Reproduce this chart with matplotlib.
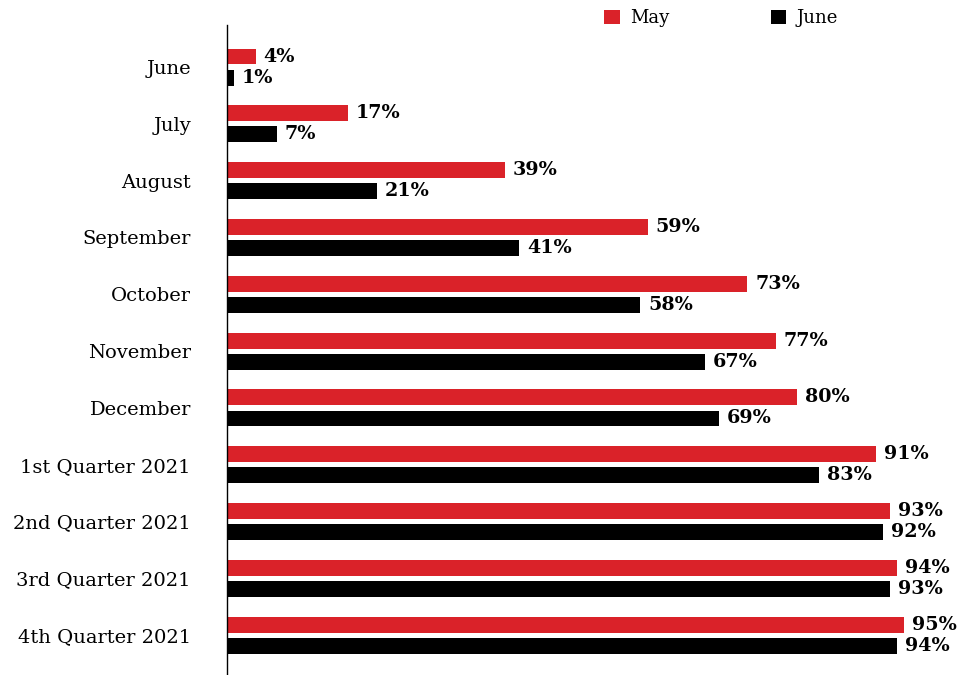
import matplotlib
matplotlib.use("Agg")
import matplotlib.pyplot as plt
from matplotlib.patches import Patch
from matplotlib import font_manager
import numpy as np

categories = ["June", "July", "August", "September", "October", "November",
              "December", "1st Quarter 2021", "2nd Quarter 2021",
              "3rd Quarter 2021", "4th Quarter 2021"]
may_values = [4, 17, 39, 59, 73, 77, 80, 91, 93, 94, 95]
june_values = [1, 7, 21, 41, 58, 67, 69, 83, 92, 93, 94]
series_names = ["May", "June"]

RED = "#DA2229"
BLACK = "#000000"

names = {f.name for f in font_manager.fontManager.ttflist}
serif = "DejaVu Serif" if "DejaVu Serif" in names else "Liberation Serif"
plt.rcParams["font.family"] = [serif]

fig = plt.figure(figsize=(9.57, 6.75), dpi=100)
ax = fig.add_axes([227 / 957, 0.0, 1 - 227 / 957, 650 / 675])

y = np.arange(len(categories))
h = 0.28
off = 0.185
ax.barh(y - off, may_values, height=h, color=RED)
ax.barh(y + off, june_values, height=h, color=BLACK)

for yi, v in zip(y, may_values):
    ax.text(v + 1.1, yi - off, f"{v}%", va="center", ha="left",
            fontsize=13.8, fontweight="bold", color="black", family=serif)
for yi, v in zip(y, june_values):
    ax.text(v + 1.1, yi + off, f"{v}%", va="center", ha="left",
            fontsize=13.8, fontweight="bold", color="black", family=serif)

ax.set_xlim(0, 102.4)
ax.set_ylim(10.70, -0.74)
ax.set_yticks(y)
ax.set_yticklabels(categories, fontsize=14, family=serif)
ax.tick_params(axis="y", length=0, pad=26)
ax.set_xticks([])
for s in ["top", "right", "bottom"]:
    ax.spines[s].set_visible(False)
ax.spines["left"].set_linewidth(1.0)

handles = [Patch(facecolor=RED, edgecolor="none"),
           Patch(facecolor=BLACK, edgecolor="none")]
fig.legend(handles, series_names, loc="center left",
           bbox_to_anchor=(588 / 957, 1 - 18 / 675), ncol=2, frameon=False,
           handlelength=0.85, handleheight=0.85, handletextpad=0.6,
           columnspacing=5.6, prop={"family": serif, "size": 13})

fig.savefig("out.png", dpi=100)
